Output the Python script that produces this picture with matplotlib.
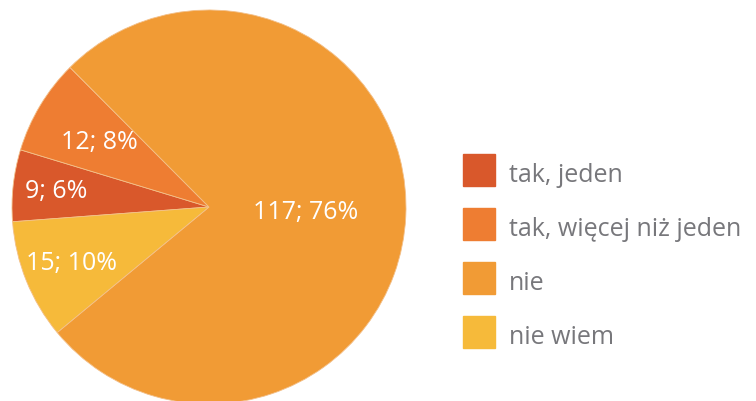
import numpy as np
import matplotlib.pyplot as plt

# dane
categories = ["tak, jeden", "tak, więcej niż jeden", "nie", "nie wiem"]
counts = [9, 12, 117, 15]
percents = [6, 8, 76, 10]
colors = ["#D9582B", "#EE7D32", "#F19B35", "#F6BA3A"]

LABEL_DIST = [0.78, 0.65, 0.49, 0.75]

plt.rcParams['font.family'] = ['Open Sans', 'DejaVu Sans']

fig = plt.figure(figsize=(7.56, 4.02), dpi=100)
W, H = 756, 402
cx, cy, r = 209, 208, 197
ax = fig.add_axes([(cx - r) / W, (H - cy - r) / H, 2 * r / W, 2 * r / H])

wedges, _ = ax.pie(counts, colors=colors, startangle=184.3, counterclock=False,
                   radius=1.0, wedgeprops=dict(linewidth=0.6, edgecolor="#f3c08a"))
ax.set_xlim(-1, 1)
ax.set_ylim(-1, 1)
ax.set_aspect("equal")
ax.axis("off")

for w, n, p, d in zip(wedges, counts, percents, LABEL_DIST):
    ang = np.deg2rad((w.theta1 + w.theta2) / 2)
    ax.text(d * np.cos(ang), d * np.sin(ang), f"{n}; {p}%", color="white",
            fontsize=18, ha="center", va="center")

# legenda
for i, (lab, c) in enumerate(zip(categories, colors)):
    y = (H - (171 + i * 54)) / H
    fig.patches.append(plt.Rectangle((463 / W, y - 16 / H), 32 / W, 32 / H,
                                     transform=fig.transFigure, color=c))
    fig.text(509 / W, y - 5 / H, lab, color="#77777B", fontsize=18,
             va="center", ha="left")

fig.savefig("out.png", dpi=100)
